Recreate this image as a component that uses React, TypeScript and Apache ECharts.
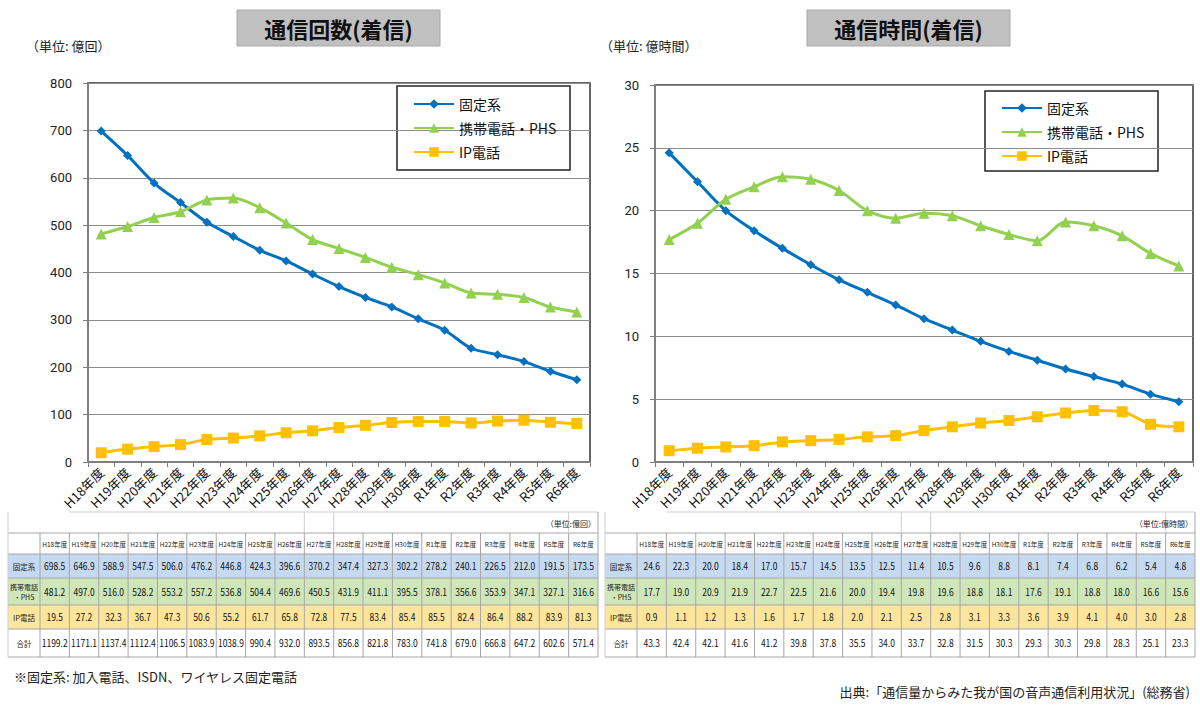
import React, { useEffect, useRef } from 'react';
import * as echarts from 'echarts';

const categories = ['H18年度', 'H19年度', 'H20年度', 'H21年度', 'H22年度', 'H23年度', 'H24年度', 'H25年度', 'H26年度', 'H27年度', 'H28年度', 'H29年度', 'H30年度', 'R1年度', 'R2年度', 'R3年度', 'R4年度', 'R5年度', 'R6年度'];

const countFixed = [698.5, 646.9, 588.9, 547.5, 506.0, 476.2, 446.8, 424.3, 396.6, 370.2, 347.4, 327.3, 302.2, 278.2, 240.1, 226.5, 212.0, 191.5, 173.5];
const countMobile = [481.2, 497.0, 516.0, 528.2, 553.2, 557.2, 536.8, 504.4, 469.6, 450.5, 431.9, 411.1, 395.5, 378.1, 356.6, 353.9, 347.1, 327.1, 316.6];
const countIP = [19.5, 27.2, 32.3, 36.7, 47.3, 50.6, 55.2, 61.7, 65.8, 72.8, 77.5, 83.4, 85.4, 85.5, 82.4, 86.4, 88.2, 83.9, 81.3];
const countTotal = [1199.2, 1171.1, 1137.4, 1112.4, 1106.5, 1083.9, 1038.9, 990.4, 932.0, 893.5, 856.8, 821.8, 783.0, 741.8, 679.0, 666.8, 647.2, 602.6, 571.4];

const timeFixed = [24.6, 22.3, 20.0, 18.4, 17.0, 15.7, 14.5, 13.5, 12.5, 11.4, 10.5, 9.6, 8.8, 8.1, 7.4, 6.8, 6.2, 5.4, 4.8];
const timeMobile = [17.7, 19.0, 20.9, 21.9, 22.7, 22.5, 21.6, 20.0, 19.4, 19.8, 19.6, 18.8, 18.1, 17.6, 19.1, 18.8, 18.0, 16.6, 15.6];
const timeIP = [0.9, 1.1, 1.2, 1.3, 1.6, 1.7, 1.8, 2.0, 2.1, 2.5, 2.8, 3.1, 3.3, 3.6, 3.9, 4.1, 4.0, 3.0, 2.8];
const timeTotal = [43.3, 42.4, 42.1, 41.6, 41.2, 39.8, 37.8, 35.5, 34.0, 33.7, 32.8, 31.5, 30.3, 29.3, 30.3, 29.8, 28.3, 25.1, 23.3];

const seriesNames = ['固定系', '携帯電話・PHS', 'IP電話'];
const rowLabels = ['固定系', '携帯電話\n・PHS', 'IP電話', '合計'];

const FONT = '"Noto Sans CJK JP", "Noto Sans", sans-serif';
const C_FIXED = '#0070c0';
const C_MOBILE = '#92d050';
const C_IP = '#ffc000';
const ROW_BG = ['#c5d9f1', '#cfe6b8', '#fde69c', '#ffffff'];
const ROW_Y = [512, 533, 554, 578, 605, 629, 657];

function buildTable(x0: number, x1: number, unit: string, data: number[][]) {
  const els: any[] = [];
  const firstW = 32;
  const colW = (x1 - x0 - firstW) / categories.length;
  const colX = (i: number) => x0 + firstW + i * colW;
  const lineStyle = { stroke: '#a6a6a6', lineWidth: 1 };
  const light = { stroke: '#cfcfcf', lineWidth: 1 };
  for (let r = 0; r < 4; r++) {
    els.push({ type: 'rect', shape: { x: x0, y: ROW_Y[r + 2], width: x1 - x0, height: ROW_Y[r + 3] - ROW_Y[r + 2] }, style: { fill: ROW_BG[r] }, silent: true });
  }
  for (let r = 0; r < ROW_Y.length; r++) {
    els.push({ type: 'line', shape: { x1: r === 0 ? x0 + firstW + 30 : x0, y1: ROW_Y[r], x2: x1, y2: ROW_Y[r] }, style: r === 0 ? light : lineStyle, silent: true });
  }
  els.push({ type: 'line', shape: { x1: x0, y1: ROW_Y[0], x2: x0, y2: ROW_Y[6] }, style: light, silent: true });
  els.push({ type: 'line', shape: { x1: x1, y1: ROW_Y[0], x2: x1, y2: ROW_Y[6] }, style: lineStyle, silent: true });
  for (let i = 0; i < categories.length; i++) {
    const x = colX(i);
    els.push({ type: 'line', shape: { x1: x, y1: ROW_Y[1], x2: x, y2: ROW_Y[6] }, style: lineStyle, silent: true });
  }
  [9, 10, 18].forEach((i) => {
    els.push({ type: 'line', shape: { x1: colX(i), y1: ROW_Y[0], x2: colX(i), y2: ROW_Y[1] }, style: light, silent: true });
  });
  els.push({ type: 'text', x: x1 - 2, y: (ROW_Y[0] + ROW_Y[1]) / 2 + 1, silent: true, style: { text: unit, fill: '#222', fontSize: 8, fontFamily: FONT, align: 'right', verticalAlign: 'middle' } });
  categories.forEach((c, i) => {
    els.push({ type: 'text', x: colX(i) + colW / 2, y: (ROW_Y[1] + ROW_Y[2]) / 2, silent: true, style: { text: c, fill: '#222', fontSize: 6.5, fontFamily: FONT, align: 'center', verticalAlign: 'middle' } });
  });
  for (let r = 0; r < 4; r++) {
    const cy = (ROW_Y[r + 2] + ROW_Y[r + 3]) / 2;
    els.push({ type: 'text', x: x0 + firstW / 2, y: cy, silent: true, style: { text: rowLabels[r], fill: '#222', fontSize: r === 1 ? 7 : 7.5, lineHeight: 10, fontFamily: FONT, align: 'center', verticalAlign: 'middle' } });
    data[r].forEach((v, i) => {
      els.push({ type: 'text', x: colX(i) + colW / 2, y: cy, silent: true, scaleX: 0.85, style: { text: v.toFixed(1), fill: '#111', fontSize: 10, fontFamily: FONT, align: 'center', verticalAlign: 'middle' } });
    });
  }
  return els;
}

function titleBox(x: number, w: number, text: string) {
  return [
    { type: 'rect', shape: { x, y: 10, width: w, height: 36 }, style: { fill: '#c0c0c0', stroke: '#a8a8a8', lineWidth: 1 }, silent: true },
    { type: 'text', x: x + w / 2, y: 28, silent: true, style: { text, fill: '#111', fontSize: 22, fontWeight: 'bold', fontFamily: FONT, align: 'center', verticalAlign: 'middle' } },
  ];
}

function legendBox(x: number, y: number, w: number, h: number) {
  return { type: 'rect', shape: { x, y, width: w, height: h }, style: { fill: '#fff', stroke: '#222', lineWidth: 1.5 }, z: -1, silent: true };
}

function lineSeries(name: string, data: number[], idx: number) {
  const cfg: any = {
    '固定系': { color: C_FIXED, symbol: 'diamond', symbolSize: 9 },
    '携帯電話・PHS': { color: C_MOBILE, symbol: 'triangle', symbolSize: 11 },
    'IP電話': { color: C_IP, symbol: 'rect', symbolSize: 11 },
  }[name];
  return {
    type: 'line',
    name,
    data,
    xAxisIndex: idx,
    yAxisIndex: idx,
    smooth: 0.3,
    symbol: cfg.symbol,
    symbolSize: cfg.symbolSize,
    itemStyle: { color: cfg.color },
    lineStyle: { color: cfg.color, width: 3 },
    z: 3,
  };
}

export default function App() {
  const ref = useRef<HTMLDivElement>(null);
  useEffect(() => {
    if (!ref.current) return;
    const chart = echarts.init(ref.current, null, { renderer: 'svg' });
    const xAxisBase = (gridIndex: number) => ({
      type: 'category',
      gridIndex,
      data: categories,
      boundaryGap: true,
      axisLine: { lineStyle: { color: '#7f7f7f', width: 2 } },
      axisTick: { show: true, length: 5, lineStyle: { color: '#7f7f7f' } },
      axisLabel: { rotate: 45, fontSize: 13, color: '#111', fontFamily: FONT, margin: 8, interval: 0 },
    });
    const yAxisBase = (gridIndex: number, max: number, interval: number) => ({
      type: 'value',
      gridIndex,
      min: 0,
      max,
      interval,
      axisLine: { show: true, lineStyle: { color: '#7f7f7f', width: 2 } },
      axisTick: { show: true, length: 5, inside: false, lineStyle: { color: '#7f7f7f' } },
      axisLabel: { fontSize: 13, color: '#222', fontFamily: 'Roboto, "Noto Sans", sans-serif', margin: 16 },
      splitLine: { show: true, lineStyle: { color: '#8c8c8c', width: 1 } },
    });
    const legendBase = (left: number, top: number) => ({
      left,
      top,
      orient: 'vertical',
      itemGap: 10,
      itemWidth: 40,
      itemHeight: 12,
      data: seriesNames,
      selectedMode: false,
      textStyle: { fontSize: 14, color: '#111', fontFamily: FONT },
    });
    chart.setOption({
      animation: false,
      backgroundColor: '#fff',
      grid: [
        { left: 88, top: 83, width: 502, height: 379, show: true, borderColor: '#333', borderWidth: 1.5, backgroundColor: 'transparent' },
        { left: 655, top: 85, width: 538, height: 377, show: true, borderColor: '#333', borderWidth: 1.5, backgroundColor: 'transparent' },
      ],
      xAxis: [xAxisBase(0), xAxisBase(1)],
      yAxis: [yAxisBase(0, 800, 100), yAxisBase(1, 30, 5)],
      legend: [legendBase(408, 92), legendBase(996, 96)],
      series: [
        lineSeries('固定系', countFixed, 0),
        lineSeries('携帯電話・PHS', countMobile, 0),
        lineSeries('IP電話', countIP, 0),
        lineSeries('固定系', timeFixed, 1),
        lineSeries('携帯電話・PHS', timeMobile, 1),
        lineSeries('IP電話', timeIP, 1),
      ],
      graphic: [
        ...titleBox(237, 203, '通信回数(着信)'),
        ...titleBox(807, 203, '通信時間(着信)'),
        { type: 'text', x: 26, y: 45, silent: true, style: { text: '（単位: 億回）', fill: '#222', fontSize: 13, fontFamily: FONT, align: 'left', verticalAlign: 'middle' } },
        { type: 'text', x: 600, y: 45, silent: true, style: { text: '（単位: 億時間）', fill: '#222', fontSize: 13, fontFamily: FONT, align: 'left', verticalAlign: 'middle' } },
        legendBox(397, 86, 173, 84),
        legendBox(985, 91, 173, 80),
        ...buildTable(8, 598, '（単位:億回）', [countFixed, countMobile, countIP, countTotal]),
        ...buildTable(605, 1195, '（単位:億時間）', [timeFixed, timeMobile, timeIP, timeTotal]),
        { type: 'text', x: 14, y: 676, silent: true, style: { text: '※固定系: 加入電話、ISDN、ワイヤレス固定電話', fill: '#222', fontSize: 13, fontFamily: FONT, align: 'left', verticalAlign: 'middle' } },
        { type: 'text', x: 1190, y: 691, silent: true, style: { text: '出典:「通信量からみた我が国の音声通信利用状況」(総務省)', fill: '#222', fontSize: 13, fontFamily: FONT, align: 'right', verticalAlign: 'middle' } },
      ],
    });
    return () => chart.dispose();
  }, []);
  return <div ref={ref} style={{ position: 'fixed', left: 0, top: 0, width: 1200, height: 708 }} />;
}
